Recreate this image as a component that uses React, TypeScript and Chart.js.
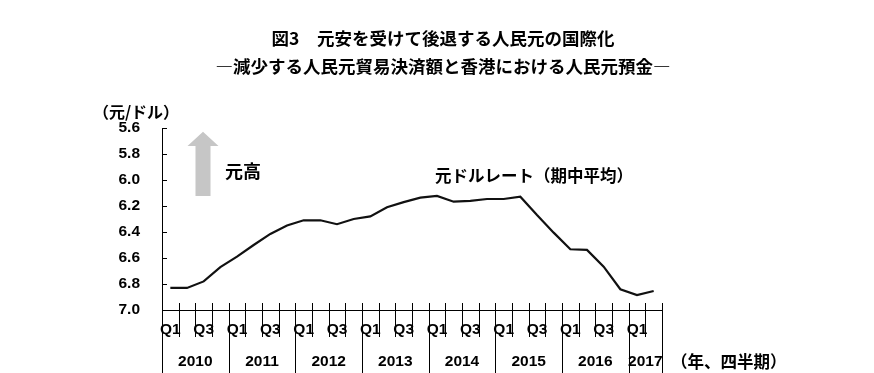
import React, { useEffect, useRef } from "react";
import { Chart, registerables } from "chart.js";

Chart.register(...registerables);

const years = ["2010", "2011", "2012", "2013", "2014", "2015", "2016", "2017"];
const quartersPerYear = [4, 4, 4, 4, 4, 4, 4, 2];
const quarterLabels = [
  "Q1", "", "Q3", "",
  "Q1", "", "Q3", "",
  "Q1", "", "Q3", "",
  "Q1", "", "Q3", "",
  "Q1", "", "Q3", "",
  "Q1", "", "Q3", "",
  "Q1", "", "Q3", "",
  "Q1", "",
];
const cnyUsd = [
  6.83, 6.83, 6.78, 6.67,
  6.59, 6.50, 6.415, 6.35,
  6.31, 6.31, 6.34, 6.30,
  6.28, 6.21, 6.17, 6.136,
  6.123, 6.167, 6.16, 6.146,
  6.146, 6.128, 6.27, 6.405,
  6.533, 6.538, 6.667, 6.84,
  6.885, 6.854,
];
const yTicks = [5.6, 5.8, 6.0, 6.2, 6.4, 6.6, 6.8, 7.0];

const titleLine1 = "図3\u3000元安を受けて後退する人民元の国際化";
const titleLine2 = "―減少する人民元貿易決済額と香港における人民元預金―";
const yUnit = "（元/ドル）";
const xUnit = "（年、四半期）";
const seriesName = "元ドルレート（期中平均）";
const upLabel = "元高";

const JP = '"Noto Sans CJK JP", "Noto Sans", sans-serif';
const LAT = '"Liberation Sans", Arial, sans-serif';

const decorPlugin = {
  id: "decor",
  afterDraw(chart: any) {
    const ctx = chart.ctx as CanvasRenderingContext2D;
    const xs = chart.scales.x;
    const ys = chart.scales.y;
    const area = chart.chartArea;
    const step = xs.getPixelForValue(1) - xs.getPixelForValue(0);
    const boundary = (i: number) => xs.getPixelForValue(0) - step / 2 + i * step;
    ctx.save();
    ctx.strokeStyle = "#000";
    ctx.lineWidth = 1;

    // inward y ticks
    yTicks.forEach((v) => {
      const y = Math.round(ys.getPixelForValue(v)) + 0.5;
      ctx.beginPath();
      ctx.moveTo(area.left, y);
      ctx.lineTo(area.left + 5, y);
      ctx.stroke();
    });

    // x boundaries
    const yearStarts: number[] = [];
    let acc = 0;
    quartersPerYear.forEach((q) => {
      yearStarts.push(acc);
      acc += q;
    });
    yearStarts.push(acc);
    const total = cnyUsd.length;
    for (let i = 0; i <= total; i++) {
      const x = Math.round(boundary(i)) + 0.5;
      const isYear = yearStarts.includes(i);
      ctx.beginPath();
      ctx.moveTo(x, area.bottom - 7);
      ctx.lineTo(x, isYear ? chart.height : area.bottom + 27);
      ctx.stroke();
    }

    // year labels
    ctx.fillStyle = "#000";
    ctx.font = `bold 15.5px ${LAT}`;
    ctx.textAlign = "center";
    ctx.textBaseline = "middle";
    years.forEach((yr, k) => {
      const cx = (boundary(yearStarts[k]) + boundary(yearStarts[k + 1])) / 2;
      ctx.fillText(yr, cx, area.bottom + 52);
    });

    // x unit
    ctx.font = `bold 16.5px ${JP}`;
    ctx.textAlign = "left";
    ctx.fillText(xUnit, boundary(total) + 9, area.bottom + 52);

    // y unit
    ctx.textAlign = "center";
    ctx.font = `bold 16px ${JP}`;
    ctx.fillText(yUnit, area.left - 26, area.top - 16);

    // arrow (元高)
    const ax = xs.getPixelForValue(1.96);
    const tipY = ys.getPixelForValue(5.628);
    const baseY = ys.getPixelForValue(5.738);
    const botY = ys.getPixelForValue(6.123);
    ctx.fillStyle = "#c6c6c6";
    ctx.beginPath();
    ctx.moveTo(ax, tipY);
    ctx.lineTo(ax + 15.5, baseY);
    ctx.lineTo(ax + 7.5, baseY);
    ctx.lineTo(ax + 7.5, botY);
    ctx.lineTo(ax - 7.5, botY);
    ctx.lineTo(ax - 7.5, baseY);
    ctx.lineTo(ax - 15.5, baseY);
    ctx.closePath();
    ctx.fill();

    ctx.fillStyle = "#000";
    ctx.textAlign = "left";
    ctx.font = `bold 18px ${JP}`;
    ctx.fillText(upLabel, xs.getPixelForValue(3.28), ys.getPixelForValue(5.935));

    ctx.font = `bold 16.5px ${JP}`;
    ctx.fillText(seriesName, xs.getPixelForValue(15.88), ys.getPixelForValue(5.965));

    // titles
    ctx.textAlign = "center";
    ctx.font = `bold 17.5px ${JP}`;
    ctx.fillText(titleLine1, 443, 38);
    ctx.fillText(titleLine2, 443, 66);
    ctx.restore();
  },
};

export default function App() {
  const ref = useRef<HTMLCanvasElement | null>(null);
  useEffect(() => {
    if (!ref.current) return;
    const chart = new Chart(ref.current, {
      type: "line",
      data: {
        labels: quarterLabels,
        datasets: [
          {
            label: seriesName,
            data: cnyUsd,
            borderColor: "#111",
            borderWidth: 2.2,
            pointRadius: 0,
            tension: 0,
            fill: false,
          },
        ],
      },
      options: {
        responsive: false,
        animation: false,
        layout: { padding: { left: 0, top: 128, right: 212, bottom: 0 } },
        plugins: {
          legend: { display: false },
          tooltip: { enabled: false },
          title: { display: false },
        },
        scales: {
          x: {
            type: "category",
            offset: true,
            grid: { display: true, drawOnChartArea: false, drawTicks: false, color: "rgba(0,0,0,0)" },
            border: { display: true, color: "#000", width: 1 },
            ticks: {
              autoSkip: false,
              maxRotation: 0,
              minRotation: 0,
              padding: 10,
              color: "#000",
              font: { family: LAT, size: 15.5, weight: "bold" },
            },
            afterFit(scale: any) {
              scale.height = 63;
            },
          },
          y: {
            reverse: true,
            min: 5.6,
            max: 7.0,
            grid: { display: true, drawOnChartArea: false, drawTicks: false, color: "rgba(0,0,0,0)" },
            border: { display: true, color: "#000", width: 1 },
            ticks: {
              stepSize: 0.2,
              padding: 22,
              color: "#000",
              font: { family: LAT, size: 15.5, weight: "bold" },
              callback: (v: any) => Number(v).toFixed(1),
            },
            afterFit(scale: any) {
              scale.width = 162;
            },
          },
        },
      },
      plugins: [decorPlugin],
    });
    return () => chart.destroy();
  }, []);
  return (
    <div style={{ position: "fixed", left: 0, top: 0, width: 874, height: 373, background: "#fff" }}>
      <canvas ref={ref} width={874} height={373} />
    </div>
  );
}
